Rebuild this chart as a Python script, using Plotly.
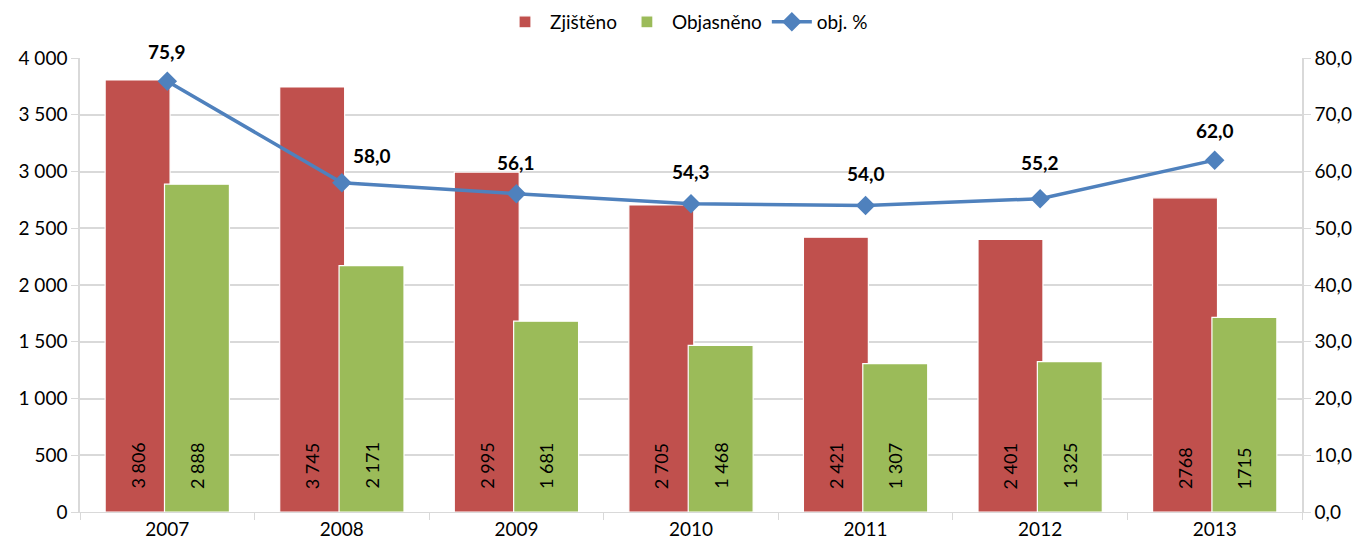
import plotly.graph_objects as go

years = ["2007", "2008", "2009", "2010", "2011", "2012", "2013"]
zjisteno = [3806, 3745, 2995, 2705, 2421, 2401, 2768]
objasneno = [2888, 2171, 1681, 1468, 1307, 1325, 1715]
obj_pct = [75.9, 58.0, 56.1, 54.3, 54.0, 55.2, 62.0]
zjisteno_text = ["3 806", "3 745", "2 995", "2 705", "2 421", "2 401", "2768"]
objasneno_text = ["2 888", "2 171", "1 681", "1 468", "1 307", "1 325", "1715"]
pct_text = ["75,9", "58,0", "56,1", "54,3", "54,0", "55,2", "62,0"]

# label placement offsets (style only)
lbl_xshift = [0, 30, 0, 0, 0, 0, 0]
lbl_yshift = [30, 27, 31, 32, 32, 36, 30]

xpos = list(range(len(years)))
BW = 0.372
OFF_R, OFF_G = -0.356, -0.016

FONT = "Lato"
fig = go.Figure()
fig.add_trace(go.Bar(
    x=xpos, y=zjisteno, name="Zjištěno",
    width=BW, offset=OFF_R,
    marker=dict(color="#C0504D", line=dict(color="white", width=1.2)),
    hoverinfo="y",
))
fig.add_trace(go.Bar(
    x=xpos, y=objasneno, name="Objasněno",
    width=BW, offset=OFF_G,
    marker=dict(color="#9BBB59", line=dict(color="white", width=1.2)),
    hoverinfo="y",
))
fig.add_trace(go.Scatter(
    x=xpos, y=obj_pct, name="obj. %", yaxis="y2", mode="lines+markers",
    line=dict(color="#4F81BD", width=3.5),
    marker=dict(symbol="diamond", size=15, color="#4F81BD"),
))

# vertical value labels at the bottom of the bars
for i in xpos:
    for off, t in ((OFF_R, zjisteno_text[i]), (OFF_G, objasneno_text[i])):
        fig.add_annotation(x=xpos[i] + off + BW / 2, y=0, xref="x", yref="y",
                           text=t, textangle=-90, showarrow=False,
                           xanchor="center", yanchor="bottom", yshift=21,
                           font=dict(family=FONT, size=18, color="black"))

for i, (v, t) in enumerate(zip(obj_pct, pct_text)):
    fig.add_annotation(x=xpos[i], y=v, xref="x", yref="y2", text="<b>" + t + "</b>",
                       showarrow=False, xshift=lbl_xshift[i], yshift=lbl_yshift[i],
                       font=dict(family=FONT, size=19, color="black"))

grid = "#D9D9D9"
fig.update_layout(
    width=1357, height=539,
    margin=dict(l=72, r=63, t=50, b=35),
    plot_bgcolor="white", paper_bgcolor="white",
    separators=", ",
    barmode="overlay",
    font=dict(family=FONT, size=19, color="black"),
    showlegend=True,
    legend=dict(orientation="h", x=0.5, xanchor="center", xref="container",
                y=0.974, yanchor="middle", yref="container",
                font=dict(family=FONT, size=19), traceorder="normal", itemwidth=40),
    xaxis=dict(range=[-0.5, len(years) - 0.5], tickvals=xpos, ticktext=years,
               showgrid=False, showline=True, linecolor=grid, ticks="",
               zeroline=False, tickfont=dict(size=19), automargin=False,
               minor=dict(tick0=0.5, dtick=1, ticks="outside", ticklen=7,
                          tickcolor=grid, showgrid=False)),
    yaxis=dict(range=[0, 4000], dtick=500, tickformat=",d", showgrid=True,
               gridcolor=grid, gridwidth=1.5, showline=True, linecolor=grid, linewidth=1.5,
               ticks="outside", tickcolor=grid, ticklen=7, zeroline=False,
               tickfont=dict(size=19), automargin=False),
    yaxis2=dict(range=[0, 80], dtick=10, tickformat=".1f", overlaying="y", side="right",
                showgrid=False, showline=True, linecolor=grid, linewidth=1.5, ticks="outside",
                tickcolor=grid, ticklen=7, zeroline=False, tickfont=dict(size=19),
                automargin=False),
)

fig.write_html("out.html")
